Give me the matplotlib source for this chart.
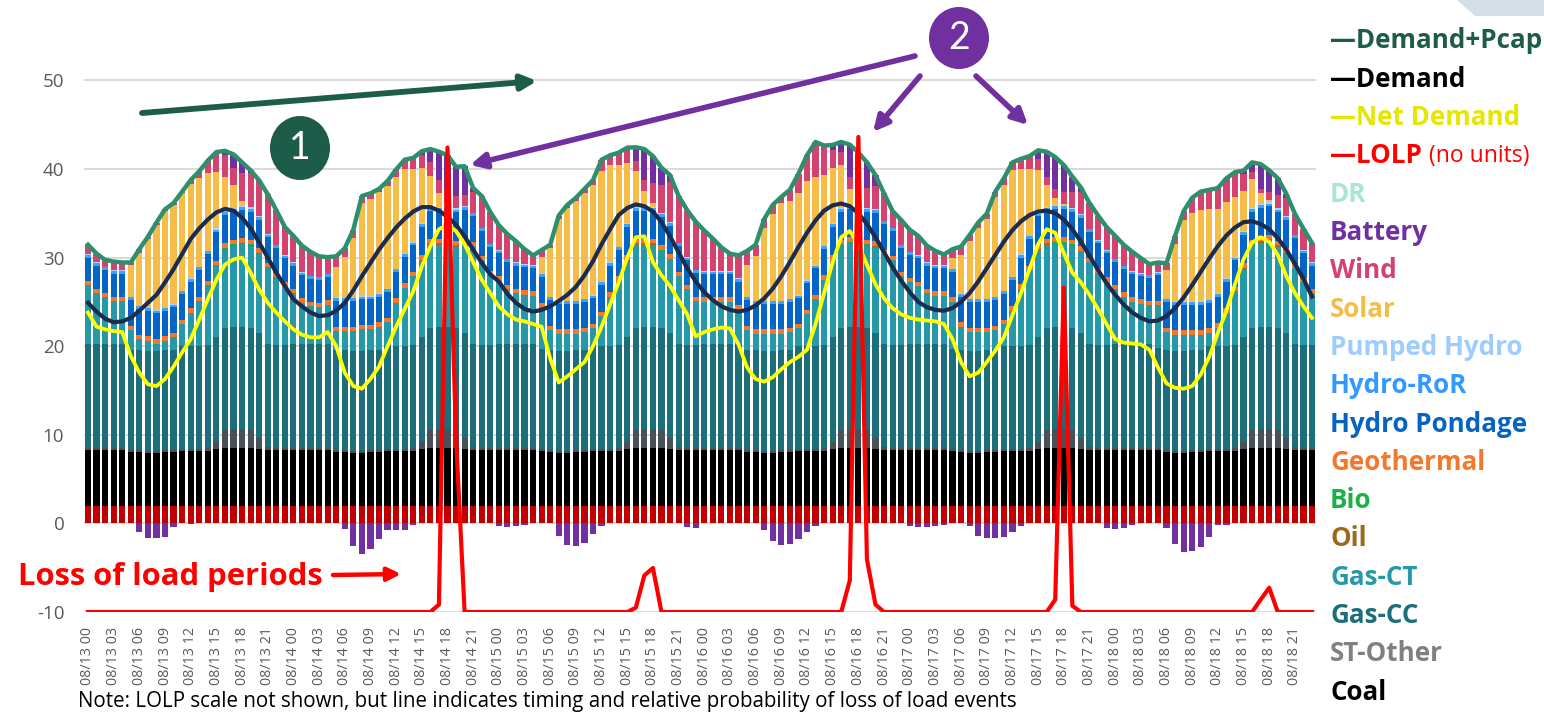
import numpy as np
import matplotlib
matplotlib.use("Agg")
import matplotlib.pyplot as plt
from matplotlib.patches import Ellipse, Polygon

# ---------------- data ----------------
days = ["08/13", "08/14", "08/15", "08/16", "08/17", "08/18"]
hours_of_day = ["00", "01", "02", "03", "04", "05", "06", "07", "08", "09", "10", "11",
                "12", "13", "14", "15", "16", "17", "18", "19", "20", "21", "22", "23"]
categories = [f"{d} {h}" for d in days for h in hours_of_day]

nuclear = [2.0] * 144

coal = (
    [6.3, 6.3, 6.3, 6.3, 6.3, 6.1, 6.1, 6.0, 6.0, 6.1, 6.1, 6.2, 6.2, 6.2, 6.2, 6.4, 6.5, 6.5, 6.5, 6.5, 6.4, 6.3, 6.3, 6.3]
    + [6.3, 6.3, 6.3, 6.3, 6.3, 6.1, 6.1, 6.0, 6.0, 6.1, 6.1, 6.2, 6.2, 6.2, 6.2, 6.4, 6.5, 6.5, 6.5, 6.5, 6.4, 6.3, 6.3, 6.3]
    + [6.3, 6.3, 6.3, 6.3, 6.3, 6.2, 6.1, 6.0, 6.0, 6.1, 6.1, 6.2, 6.2, 6.2, 6.2, 6.4, 6.5, 6.5, 6.5, 6.5, 6.4, 6.3, 6.3, 6.3]
    + [6.3, 6.3, 6.3, 6.3, 6.3, 6.1, 6.1, 6.0, 6.0, 6.1, 6.1, 6.2, 6.2, 6.2, 6.2, 6.4, 6.5, 6.5, 6.5, 6.5, 6.4, 6.3, 6.3, 6.3]
    + [6.3, 6.3, 6.3, 6.3, 6.3, 6.2, 6.1, 6.0, 6.0, 6.1, 6.1, 6.2, 6.2, 6.2, 6.2, 6.4, 6.5, 6.5, 6.5, 6.5, 6.4, 6.3, 6.3, 6.3]
    + [6.3, 6.3, 6.3, 6.3, 6.3, 6.3, 6.1, 6.0, 6.0, 6.1, 6.1, 6.2, 6.2, 6.2, 6.2, 6.4, 6.5, 6.5, 6.5, 6.5, 6.4, 6.3, 6.3, 6.3]
)
st_other = (
    [0.2, 0.2, 0.2, 0.2, 0.2, 0.2, 0.2, 0.2, 0.2, 0.2, 0.2, 0.2, 0.2, 0.2, 0.3, 0.8, 2.0, 2.1, 2.1, 2.0, 1.2, 0.3, 0.2, 0.2]
    + [0.2, 0.2, 0.2, 0.2, 0.2, 0.2, 0.2, 0.2, 0.2, 0.2, 0.2, 0.2, 0.2, 0.2, 0.3, 0.8, 2.0, 2.1, 2.1, 2.0, 1.2, 0.3, 0.2, 0.2]
    + [0.2, 0.2, 0.2, 0.2, 0.2, 0.2, 0.2, 0.2, 0.2, 0.2, 0.2, 0.2, 0.2, 0.2, 0.3, 0.8, 2.0, 2.1, 2.1, 2.0, 1.2, 0.3, 0.2, 0.2]
    + [0.2, 0.2, 0.2, 0.2, 0.2, 0.2, 0.2, 0.2, 0.2, 0.2, 0.2, 0.2, 0.2, 0.2, 0.3, 0.8, 2.0, 2.1, 2.1, 2.0, 1.2, 0.3, 0.2, 0.2]
    + [0.2, 0.2, 0.2, 0.2, 0.2, 0.2, 0.2, 0.2, 0.2, 0.2, 0.2, 0.2, 0.2, 0.2, 0.3, 0.8, 2.0, 2.1, 2.1, 2.0, 1.2, 0.3, 0.2, 0.2]
    + [0.2, 0.2, 0.2, 0.2, 0.2, 0.2, 0.2, 0.2, 0.2, 0.2, 0.2, 0.2, 0.2, 0.2, 0.3, 0.8, 2.0, 2.1, 2.1, 2.0, 1.2, 0.3, 0.2, 0.2]
)
gas_cc = (
    [11.7, 11.7, 11.7, 11.7, 11.7, 11.3, 11.3, 11.3, 11.3, 11.3, 11.3, 11.6, 11.6, 11.6, 11.6, 11.8, 11.6, 11.6, 11.6, 11.6, 11.9, 11.6, 11.6, 11.6]
    + [11.7, 11.7, 11.7, 11.7, 11.7, 11.3, 11.3, 11.3, 11.3, 11.3, 11.3, 11.6, 11.6, 11.6, 11.6, 11.8, 11.6, 11.6, 11.6, 11.6, 11.9, 11.6, 11.6, 11.6]
    + [11.7, 11.7, 11.7, 11.7, 11.7, 11.3, 11.3, 11.3, 11.3, 11.3, 11.3, 11.6, 11.6, 11.6, 11.6, 11.8, 11.6, 11.6, 11.6, 11.6, 11.9, 11.6, 11.6, 11.6]
    + [11.7, 11.7, 11.7, 11.7, 11.7, 11.3, 11.3, 11.3, 11.3, 11.3, 11.3, 11.6, 11.6, 11.6, 11.6, 11.8, 11.6, 11.6, 11.6, 11.6, 11.9, 11.6, 11.6, 11.6]
    + [11.7, 11.7, 11.7, 11.7, 11.7, 11.3, 11.3, 11.3, 11.3, 11.3, 11.3, 11.6, 11.6, 11.6, 11.6, 11.8, 11.6, 11.6, 11.6, 11.6, 11.9, 11.6, 11.6, 11.6]
    + [11.7, 11.7, 11.7, 11.7, 11.7, 11.3, 11.3, 11.3, 11.3, 11.3, 11.3, 11.6, 11.6, 11.6, 11.6, 11.8, 11.6, 11.6, 11.6, 11.6, 11.9, 11.6, 11.6, 11.6]
)
gas_ct = (
    [6.7, 5.8, 5.3, 4.9, 4.9, 2.2, 1.2, 1.1, 0.8, 1.0, 1.4, 2.5, 3.8, 5.1, 6.8, 8.0, 8.8, 9.1, 9.3, 9.2, 8.9, 8.7, 7.7, 6.6]
    + [5.8, 4.7, 4.3, 4.2, 4.5, 2.1, 2.1, 2.2, 2.4, 2.3, 2.6, 2.7, 4.9, 6.6, 7.8, 8.6, 9.3, 9.2, 9.2, 9.1, 10.0, 11.1, 9.6, 7.9]
    + [7.2, 6.2, 5.8, 5.6, 5.5, 4.7, 2.2, 1.9, 1.9, 1.8, 2.0, 2.0, 3.4, 5.6, 7.3, 8.6, 9.3, 9.2, 9.2, 8.6, 8.2, 7.7, 6.3, 5.0]
    + [4.8, 4.8, 4.8, 4.8, 4.0, 2.2, 1.8, 1.9, 1.9, 1.8, 2.0, 2.0, 3.6, 5.3, 7.4, 8.6, 9.2, 9.4, 9.2, 9.2, 9.7, 10.2, 9.6, 7.8]
    + [7.0, 6.6, 5.8, 5.5, 5.5, 5.3, 2.6, 2.1, 2.1, 2.0, 2.2, 2.5, 4.0, 6.5, 8.5, 9.8, 9.3, 9.4, 9.4, 9.2, 9.1, 9.3, 8.2, 7.2]
    + [6.2, 5.4, 4.8, 4.6, 4.4, 4.8, 2.0, 1.8, 1.8, 1.7, 1.7, 1.5, 2.1, 3.8, 6.1, 7.7, 9.2, 9.5, 9.7, 9.1, 8.9, 8.6, 7.1, 5.8]
)
oil_day = [0, 0, 0, 0, 0, 0, 0, 0, 0, 0, 0, 0, 0, 0, 0, 0.08, 0.1, 0.1, 0.1, 0.1, 0.08, 0, 0, 0]
oil = oil_day + oil_day + oil_day + oil_day + oil_day + oil_day
bio_day = [0, 0, 0, 0, 0, 0, 0, 0, 0, 0, 0, 0, 0, 0, 0, 0.08, 0.1, 0.1, 0.1, 0.1, 0.08, 0, 0, 0]
bio = bio_day + bio_day + bio_day + bio_day + bio_day + bio_day
geothermal = [0.5] * 144
pond_day = [2.6, 2.6, 2.6, 2.6, 2.6, 2.9, 2.9, 2.9, 2.9, 2.9, 2.9, 2.9, 3.0, 3.0, 3.0, 3.2, 3.2, 3.2, 3.2, 3.2, 3.2, 2.9, 2.8, 2.7]
hydro_pondage = pond_day + pond_day + pond_day + pond_day + pond_day + pond_day
hydro_ror = [0.3] * 144
pumped_day = [0.05, 0.05, 0.05, 0.05, 0.05, 0.05, 0.05, 0.05, 0.05, 0.05, 0.05, 0.05, 0.05, 0.05, 0.05, 0.15, 0.15, 0.15, 0.15, 0.15, 0.15, 0.05, 0.05, 0.05]
pumped_hydro = pumped_day + pumped_day + pumped_day + pumped_day + pumped_day + pumped_day
solar = (
    [0, 0, 0, 0, 0, 3.6, 6.0, 7.7, 9.6, 10.9, 11.2, 11.0, 10.7, 10.0, 8.8, 6.4, 3.8, 2.5, 0.5, 0.1, 0, 0, 0, 0]
    + [0, 0, 0, 0, 0, 3.5, 4.6, 6.8, 10.5, 11.0, 11.4, 11.6, 10.4, 9.6, 8.2, 6.2, 3.5, 1.5, 0.4, 0, 0, 0, 0, 0]
    + [0, 0, 0, 0, 0, 1.9, 5.5, 9.2, 10.4, 11.2, 11.9, 12.4, 12.5, 11.0, 9.2, 6.8, 4.0, 1.8, 0.4, 0, 0, 0, 0, 0]
    + [0, 0, 0, 0, 0, 3.6, 5.0, 8.2, 9.8, 11.0, 11.0, 11.5, 11.2, 10.0, 8.0, 6.2, 4.8, 1.8, 0.3, 0, 0, 0, 0, 0]
    + [0, 0, 0, 0, 0, 1.2, 4.3, 6.5, 8.0, 9.0, 11.3, 12.0, 12.0, 9.6, 7.5, 4.8, 2.5, 0.8, 0.1, 0, 0, 0, 0, 0]
    + [0, 0, 0, 0, 0, 0, 3.2, 6.5, 9.2, 10.0, 10.3, 10.2, 9.5, 8.6, 6.8, 4.5, 3.2, 1.2, 0.2, 0, 0, 0, 0, 0]
)
wind = (
    [1.1, 1.0, 0.8, 1.0, 0.9, 0.3, 0.4, 0.3, 0.3, 0.2, 0.2, 0.2, 0.4, 0.8, 1.4, 2.2, 2.5, 2.0, 3.2, 3.8, 4.0, 4.5, 3.9, 3.2]
    + [3.0, 3.0, 2.7, 2.3, 1.9, 1.2, 1.0, 0.9, 0.8, 0.6, 0.4, 0.6, 0.8, 1.0, 1.3, 1.5, 1.5, 1.5, 1.5, 1.4, 1.2, 2.3, 3.6, 3.6]
    + [2.8, 2.8, 2.4, 1.7, 1.1, 0.8, 0.4, 0.4, 0.4, 0.4, 0.5, 0.6, 1.3, 1.1, 1.4, 1.7, 1.2, 1.2, 2.3, 3.2, 4.5, 5.3, 5.3, 5.4]
    + [4.6, 3.7, 2.7, 2.0, 2.6, 1.6, 1.3, 1.0, 1.0, 0.7, 1.3, 2.2, 2.9, 3.9, 3.3, 2.0, 1.5, 1.3, 1.5, 2.2, 2.6, 3.1, 1.9, 2.8]
    + [2.5, 2.2, 1.9, 1.6, 1.2, 1.0, 1.0, 0.7, 0.6, 0.6, 0.6, 0.7, 0.9, 1.2, 1.5, 1.2, 0.8, 1.0, 1.4, 1.8, 2.5, 2.9, 2.8, 2.6]
    + [2.6, 2.4, 2.2, 1.7, 1.2, 1.1, 0.8, 0.9, 1.0, 1.7, 2.1, 2.2, 2.4, 2.7, 2.8, 1.9, 0.8, 0.5, 1.0, 1.5, 2.0, 2.4, 2.4, 2.2]
)
battery = (
    [0, 0, 0, 0, 0, 0, -1.0, -1.7, -1.7, -1.5, -0.4, 0, -0.1, 0, 0, 0, 0.5, 1.5, 1.2, 0.3, 0, 0, 0, 0]
    + [0, 0, 0, 0, 0, 0, -0.6, -2.5, -3.4, -2.9, -1.8, -0.7, -0.8, -0.8, -0.2, 0.4, 1.5, 3.2, 3.9, 3.3, 3.3, 0.5, 0, 0]
    + [-0.3, -0.4, -0.3, -0.2, 0, 0, 0, -1.4, -2.4, -2.6, -2.2, -1.2, -0.3, 0, 0, 0, 1.5, 3.5, 3.0, 1.9, 0.8, 0, -0.4, -0.5]
    + [0, 0, 0, 0, 0, 0, 0, -0.8, -2.0, -2.4, -2.3, -1.8, -1.0, -0.3, 0, 0.6, 1.1, 3.7, 4.3, 2.9, 1.2, 0, 0, 0]
    + [-0.3, -0.4, -0.4, -0.3, -0.2, 0, 0, -0.3, -1.4, -1.6, -1.7, -1.5, -1.0, -0.3, 0, 1.0, 2.9, 3.6, 3.0, 1.7, 0.5, 0, 0, -0.5]
    + [-0.6, -0.5, -0.2, 0, 0, 0, -0.5, -2.3, -3.2, -3.1, -2.7, -1.5, -0.2, -0.2, 0, 0.4, 1.1, 2.8, 2.4, 1.9, 0.5, 0, 0, 0]
)
dr = [0.0] * 144

demand = (
    [24.9, 23.9, 23.1, 22.7, 22.8, 23.2, 24.0, 24.9, 25.8, 27.2, 28.7, 30.4, 32.1, 33.3, 34.3, 35.1, 35.5, 35.3, 34.5, 33.3, 31.7, 30.0, 28.3, 26.8]
    + [25.3, 24.5, 23.8, 23.4, 23.5, 24.0, 24.9, 26.3, 27.9, 29.4, 30.9, 32.2, 33.4, 34.4, 35.2, 35.7, 35.7, 35.3, 34.6, 33.7, 32.4, 30.9, 29.4, 28.1]
    + [27.3, 25.9, 24.9, 24.2, 23.9, 24.1, 24.5, 25.1, 25.8, 26.7, 28.0, 29.6, 31.5, 33.2, 34.8, 35.6, 36.0, 35.8, 35.2, 34.0, 32.4, 30.6, 28.8, 27.3]
    + [26.1, 25.2, 24.5, 24.1, 23.9, 24.1, 24.6, 25.4, 26.5, 27.9, 29.5, 31.2, 32.8, 34.2, 35.3, 35.9, 36.1, 35.8, 35.0, 33.8, 32.3, 30.6, 28.9, 27.4]
    + [26.1, 25.0, 24.4, 24.1, 24.0, 24.3, 25.0, 26.0, 27.3, 28.8, 30.3, 31.8, 33.1, 34.1, 34.8, 35.2, 35.3, 35.0, 34.3, 33.2, 31.8, 30.2, 28.6, 27.1]
    + [25.8, 24.7, 23.8, 23.2, 22.8, 22.9, 23.4, 24.3, 25.5, 26.9, 28.4, 29.9, 31.3, 32.5, 33.4, 34.0, 34.1, 33.8, 33.2, 32.2, 30.9, 29.3, 27.6, 25.6]
)
net_demand = (
    [23.8, 22.2, 21.9, 21.7, 21.6, 18.9, 17.0, 15.7, 15.5, 16.3, 17.7, 19.3, 20.8, 23.0, 25.3, 27.5, 29.2, 29.8, 30.0, 28.3, 26.4, 24.9, 23.8, 22.8]
    + [21.9, 21.3, 21.0, 21.0, 21.6, 20.0, 17.0, 15.5, 15.2, 16.3, 17.7, 20.0, 22.2, 24.2, 26.2, 29.0, 31.3, 33.2, 33.7, 33.0, 31.5, 29.5, 27.5, 26.0]
    + [24.5, 23.6, 23.0, 22.8, 22.5, 22.2, 18.6, 15.9, 16.6, 17.4, 18.2, 20.0, 22.2, 24.7, 27.2, 30.0, 32.3, 32.4, 29.5, 28.0, 26.8, 25.2, 23.6, 21.1]
    + [21.6, 21.9, 22.1, 22.0, 20.2, 17.6, 16.3, 16.0, 16.5, 17.4, 18.2, 18.8, 19.6, 22.5, 26.0, 29.5, 32.3, 33.0, 31.5, 29.2, 27.0, 25.4, 24.3, 23.6]
    + [23.2, 23.0, 22.9, 22.8, 22.5, 20.8, 18.2, 16.6, 17.0, 18.2, 19.5, 21.0, 23.5, 26.0, 28.7, 31.5, 33.2, 32.8, 30.5, 28.3, 27.2, 25.8, 24.2, 22.5]
    + [20.8, 20.4, 20.3, 20.2, 19.6, 17.6, 15.8, 15.3, 15.2, 15.5, 16.8, 18.8, 21.5, 24.0, 27.0, 29.8, 31.7, 32.3, 31.8, 30.3, 27.9, 26.0, 24.5, 23.2]
)
# relative loss-of-load probability (no units, hidden secondary scale 0..1)
lolp = (
    [0] * 24
    + [0, 0, 0, 0, 0, 0, 0, 0, 0, 0, 0, 0, 0, 0, 0, 0, 0, 0.012, 0.749, 0.28, 0, 0, 0, 0]
    + [0, 0, 0, 0, 0, 0, 0, 0, 0, 0, 0, 0, 0, 0, 0, 0, 0.007, 0.059, 0.071, 0, 0, 0, 0, 0]
    + [0, 0, 0, 0, 0, 0, 0, 0, 0, 0, 0, 0, 0, 0, 0, 0, 0, 0.051, 0.766, 0.085, 0.012, 0, 0, 0]
    + [0, 0, 0, 0, 0, 0, 0, 0, 0, 0, 0, 0, 0, 0, 0, 0, 0, 0.02, 0.523, 0.010, 0, 0, 0, 0]
    + [0, 0, 0, 0, 0, 0, 0, 0, 0, 0, 0, 0, 0, 0, 0, 0, 0, 0.020, 0.039, 0, 0, 0, 0, 0]
)

# ---------------- style ----------------
W, H = 1544, 713
FONT = "Open Sans"
plt.rcParams["font.family"] = [FONT, "DejaVu Sans"]

stack = [
    ("Nuclear", nuclear, "#C00000"),
    ("Coal", coal, "#000000"),
    ("ST-Other", st_other, "#4A5058"),
    ("Gas-CC", gas_cc, "#1C6E7A"),
    ("Gas-CT", gas_ct, "#2599A7"),
    ("Oil", oil, "#9C6A1B"),
    ("Bio", bio, "#1FAF4A"),
    ("Geothermal", geothermal, "#F4782B"),
    ("Hydro Pondage", hydro_pondage, "#0565C6"),
    ("Hydro-RoR", hydro_ror, "#3EA3F7"),
    ("Pumped Hydro", pumped_hydro, "#A9D4FF"),
    ("Solar", solar, "#F5BC48"),
    ("Wind", wind, "#D4426F"),
    ("Battery", battery, "#7030A0"),
    ("DR", dr, "#A8E6D4"),
]

fig = plt.figure(figsize=(W / 100, H / 100), dpi=100)
fig.patch.set_facecolor("white")

unit = 8.86
y_bot_px = 612
ax = fig.add_axes([83.7 / W, (H - y_bot_px) / H, (1316.3 - 83.7) / W, 70 * unit / H])
ax.set_ylim(-10, 60)
x = np.arange(len(categories))
ax.set_xlim(-0.5, len(categories) - 0.5)

bw = 0.72
bottom = np.zeros(len(categories))
for name, vals, col in stack:
    v = np.asarray(vals, dtype=float)
    pos = np.clip(v, 0, None)
    ax.bar(x, pos, bw, bottom=bottom, color=col, linewidth=0, zorder=2)
    bottom = bottom + pos
    if name == "Battery":
        neg = np.clip(v, None, 0)
        ax.bar(x, neg, bw, bottom=0, color=col, linewidth=0, zorder=2)

demand_pcap = bottom
ax.plot(x, demand_pcap, color="#2E8F6C", lw=3.2, zorder=4, solid_joinstyle="round")
ax.plot(x, demand, color="#1C2C4E", lw=3.0, zorder=5, solid_joinstyle="round")
ax.plot(x, net_demand, color="#FFFF00", lw=2.7, zorder=6, solid_joinstyle="round")

ax.set_yticks([-10, 0, 10, 20, 30, 40, 50])
ax.set_yticklabels(["-10", "0", "10", "20", "30", "40", "50"])
ax.grid(axis="y", color="#D9D9D9", lw=1.4, zorder=0)
ax.set_axisbelow(True)
ax.set_xticks(x[::3])
ax.set_xticklabels(categories[::3], rotation=90, fontsize=10.3, color="#595959")
ax.tick_params(axis="x", length=0, pad=11)
ax.tick_params(axis="y", length=0, pad=14, labelsize=13.5, labelcolor="#595959")
for s in ax.spines.values():
    s.set_visible(False)

ax2 = ax.twinx()
ax2.set_ylim(0, 1.0)
ax2.plot(x, lolp, color="#FF0000", lw=3.0, zorder=7, solid_joinstyle="round")
ax2.set_yticks([])
for s in ax2.spines.values():
    s.set_visible(False)

# ---------------- overlay annotations (pixel coordinates) ----------------
ov = fig.add_axes([0, 0, 1, 1], facecolor="none")
ov.set_xlim(0, W)
ov.set_ylim(H, 0)
ov.axis("off")

ov.add_patch(Polygon([(1457, 0), (1475, 16), (1544, 16), (1544, 0)], closed=True,
                     facecolor="#D5DEE7", edgecolor="none"))

green_dark = "#1E5C4A"
purple = "#7030A0"
ov.annotate("", xy=(537, 81), xytext=(142, 113),
            arrowprops=dict(arrowstyle="-|>,head_length=0.9,head_width=0.45", lw=4.2,
                            color=green_dark, shrinkA=0, shrinkB=0))
ov.add_patch(Ellipse((300, 148), 60, 64, facecolor=green_dark, edgecolor="none"))
ov.text(300, 148, "1", color="white", fontsize=27, ha="center", va="center", family="Lato")

ov.add_patch(Ellipse((959, 38), 60, 62, facecolor=purple, edgecolor="none"))
ov.text(959, 38, "2", color="white", fontsize=27, ha="center", va="center", family="Lato")
for (sx, sy, ex, ey) in [(915, 56, 470, 165), (920, 76, 873, 132), (976, 76, 1028, 125)]:
    ov.annotate("", xy=(ex, ey), xytext=(sx, sy),
                arrowprops=dict(arrowstyle="-|>,head_length=0.9,head_width=0.45", lw=4.0,
                                color=purple, shrinkA=0, shrinkB=0))

ov.text(18, 577, "Loss of load periods", color="#FF0000", fontsize=22.3, fontweight="bold",
        ha="left", va="center")
ov.annotate("", xy=(401, 574), xytext=(333, 575),
            arrowprops=dict(arrowstyle="-|>,head_length=0.8,head_width=0.4", lw=3.2,
                            color="#FF0000", shrinkA=0, shrinkB=0))

ov.text(78, 702, "Note: LOLP scale not shown, but line indicates timing and relative probability of loss of load events",
        color="#000000", fontsize=14.8, ha="left", va="center")

legend_items = [
    ("\u2014Demand+Pcap", "#1E5C4A"),
    ("\u2014Demand", "#000000"),
    ("\u2014Net Demand", "#E6E600"),
    ("\u2014LOLP", "#FF0000"),
    ("DR", "#A8E6D4"),
    ("Battery", "#7030A0"),
    ("Wind", "#D4426F"),
    ("Solar", "#F5BC48"),
    ("Pumped Hydro", "#9FCCFF"),
    ("Hydro-RoR", "#3399FF"),
    ("Hydro Pondage", "#0563C1"),
    ("Geothermal", "#F4782B"),
    ("Bio", "#1FAF4A"),
    ("Oil", "#9C6A1B"),
    ("Gas-CT", "#2599A7"),
    ("Gas-CC", "#1C6E7A"),
    ("ST-Other", "#808080"),
    ("Coal", "#000000"),
]
y0, dy = 41, 38.3
lolp_txt = None
for k, (txt, col) in enumerate(legend_items):
    t = ov.text(1330, y0 + k * dy, txt, color=col, fontsize=18.7, fontweight="bold",
                ha="left", va="center")
    if k == 3:
        lolp_txt = t
ov.annotate("(no units)", xy=(1, 0.5), xycoords=lolp_txt, xytext=(5, 0), textcoords="offset points",
            color="#FF0000", fontsize=16.5, ha="left", va="center")

fig.savefig("out.png", dpi=100, facecolor="white")
